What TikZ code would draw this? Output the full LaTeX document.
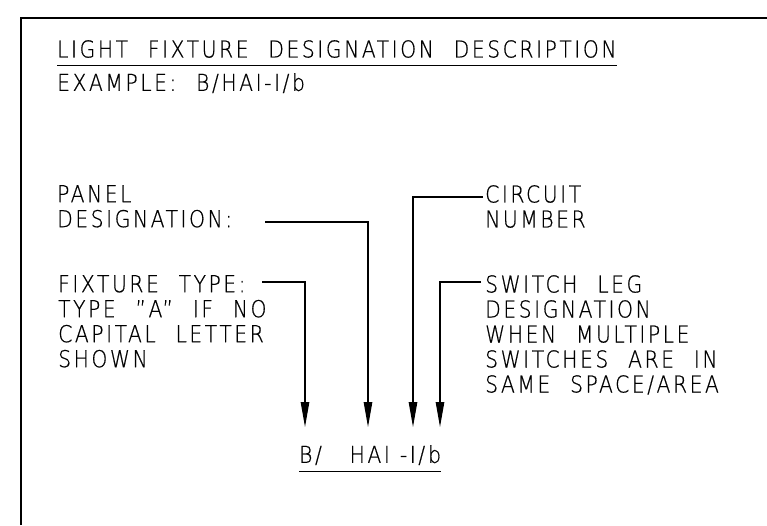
\documentclass[tikz,border=0pt]{standalone}
\usepackage{fontspec}
\setmainfont{DejaVu Sans ExtraLight}[FakeStretch=0.87, LetterSpace=11, WordSpace=2.2, FakeBold=0.6]
\usetikzlibrary{arrows.meta}
\newcommand{\cadtext}{\fontsize{23.3}{25}\selectfont}
\tikzset{
    fixture sheet/.style = {x=1pt, y=-1pt,
                            >={Triangle[length=25pt, width=8.5pt]}},
    frame/.style         = {line width=2.5pt},
    note/.style          = {anchor=north west, inner sep=0pt, align=left,
                            font=\cadtext},
    leader/.style        = {line width=1.1pt},
    rule/.style          = {line width=1pt}
}

\begin{document}
\begin{tikzpicture}[fixture sheet]

\useasboundingbox (0,0) rectangle (767,525);
\draw[frame] (21,525) -- (21,18) -- (767,18);

% heading
\node[note] (title) at (57,40) {LIGHT FIXTURE DESIGNATION DESCRIPTION};
\draw[rule] ([yshift=-7pt]title.south west) -- ([yshift=-7pt]title.south east);
\node[note] (example) at (57,73) {EXAMPLE: B/HAI-I/b};

% callouts
\node[note] (panel)   at (57,185)  {PANEL\\DESIGNATION:};
\node[note] (circuit) at (485,185) {CIRCUIT\\NUMBER};
\node[note] (fixture) at (58,275)  {FIXTURE TYPE:\\TYPE "A" IF NO\\CAPITAL LETTER\\SHOWN};
\node[note] (switch)  at (485,275) {SWITCH LEG\\DESIGNATION\\WHEN MULTIPLE\\SWITCHES ARE IN\\SAME SPACE/AREA};

% designation
\node[note] (code) at (299,445) {B/ \kern8pt HAI\kern10pt-I/\kern3pt b};
\draw[rule] ([yshift=-6pt]code.south west) -- ([yshift=-6pt]code.south east);

\coordinate (panelL)   at (265,222);
\coordinate (circuitR) at (483,197);
\coordinate (fixtureL) at (262,282);
\coordinate (switchR)  at (481,282);
\coordinate (tipB) at (305,427);
\coordinate (tipP) at (368,427);
\coordinate (tipC) at (413,427);
\coordinate (tipS) at (440,427);

\draw[leader, ->] (fixtureL) -| (tipB);
\draw[leader, ->] (panelL) -| (tipP);
\draw[leader, ->] (circuitR) -| (tipC);
\draw[leader, ->] (switchR) -| (tipS);

\end{tikzpicture}
\end{document}
